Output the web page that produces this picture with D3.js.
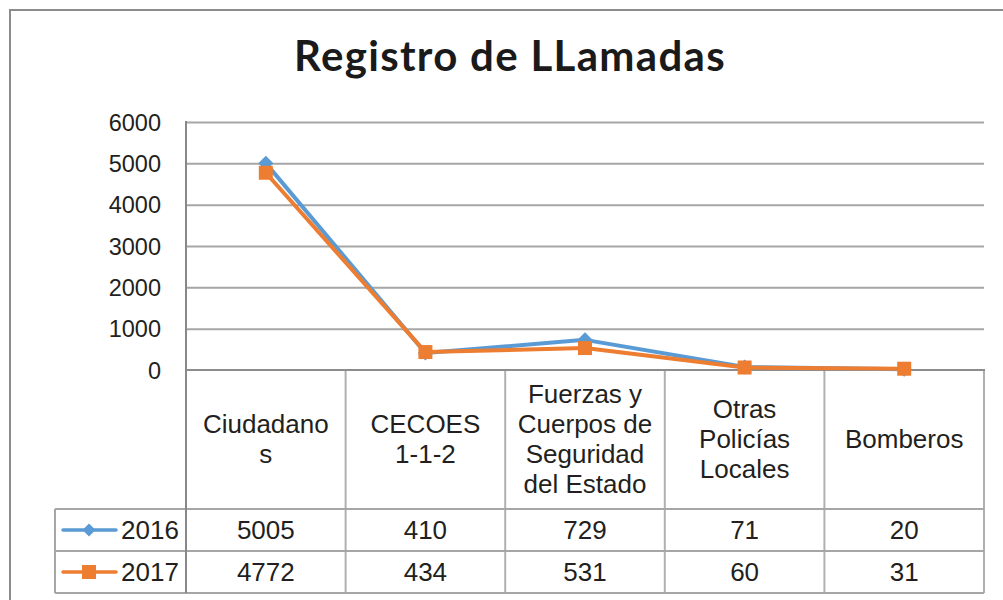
<!DOCTYPE html>
<html>
<head>
<meta charset="utf-8">
<script src="https://cdn.jsdelivr.net/npm/d3@7"></script>
<style>
  html, body { margin: 0; padding: 0; background: #fff; }
  svg { display: block; }
</style>
</head>
<body>
<svg id="chart" width="1003" height="600"></svg>
<script>
// ---- data ----
const categories = ["Ciudadanos", "CECOES 1-1-2", "Fuerzas y Cuerpos de Seguridad del Estado", "Otras Policías Locales", "Bomberos"];
const categoryLines = [["Ciudadano", "s"], ["CECOES", "1-1-2"], ["Fuerzas y", "Cuerpos de", "Seguridad", "del Estado"], ["Otras", "Policías", "Locales"], ["Bomberos"]];
const seriesNames = ["2016", "2017"];
const values2016 = [5005, 410, 729, 71, 20];
const values2017 = [4772, 434, 531, 60, 31];
const yTicks = [0, 1000, 2000, 3000, 4000, 5000, 6000];
const seriesColors = ["#5b9bd5", "#ed7d31"];
const title = "Registro de LLamadas";

const series = [
  { name: seriesNames[0], values: values2016, color: seriesColors[0], shape: "diamond" },
  { name: seriesNames[1], values: values2017, color: seriesColors[1], shape: "square" }
];

// ---- layout ----
const svg = d3.select("#chart");
const plotLeft = 186, plotRight = 984, plotTop = 122, plotBottom = 370;
const headerBottom = 509, rowH = 42;
const tableLeft = 55;
const textColor = "#231f20";
const font = "'Liberation Sans', Arial, sans-serif";

const x = d3.scaleBand().domain(categories).range([plotLeft, plotRight]).padding(0);
const y = d3.scaleLinear().domain([0, 6000]).range([plotBottom, plotTop]);

// outer border
svg.append("rect").attr("x", 10).attr("y", 10).attr("width", 1010).attr("height", 610)
  .attr("fill", "none").attr("stroke", "#8c8c8c").attr("stroke-width", 2);

// title
svg.append("text").attr("x", 510).attr("y", 71).attr("text-anchor", "middle")
  .attr("font-family", "Lato, 'Open Sans', sans-serif").attr("font-weight", "bold")
  .attr("font-size", 42).attr("letter-spacing", 1.3).attr("fill", "#1a1a1a").text(title);

// gridlines
const grid = svg.append("g").attr("transform", `translate(${plotLeft},0)`)
  .call(d3.axisLeft(y).tickValues(yTicks.filter(d => d > 0)).tickSize(-(plotRight - plotLeft)).tickFormat(""));
grid.select(".domain").remove();
grid.selectAll(".tick line").attr("stroke", "#a6a6a6").attr("stroke-width", 2);

// y axis labels
const yAxis = svg.append("g").attr("transform", `translate(${plotLeft},0)`)
  .call(d3.axisLeft(y).tickValues(yTicks).tickSize(0).tickPadding(25).tickFormat(d3.format("d")));
yAxis.select(".domain").remove();
yAxis.selectAll(".tick text").attr("font-family", font).attr("font-size", 23.5).attr("fill", textColor).attr("dy", "0.35em");

// table lines
const tbl = svg.append("g");
const boundaries = categories.map(c => x(c)).concat([plotRight]);
tbl.selectAll("line.v").data(boundaries.slice(1)).join("line")
  .attr("x1", d => d).attr("x2", d => d).attr("y1", plotBottom).attr("y2", headerBottom + 2 * rowH)
  .attr("stroke", "#b0b0b0").attr("stroke-width", 2);
[headerBottom, headerBottom + rowH, headerBottom + 2 * rowH].forEach(yy => {
  tbl.append("line").attr("x1", tableLeft).attr("x2", plotRight).attr("y1", yy).attr("y2", yy)
    .attr("stroke", "#a6a6a6").attr("stroke-width", 2);
});
tbl.append("line").attr("x1", tableLeft).attr("x2", tableLeft).attr("y1", headerBottom).attr("y2", headerBottom + 2 * rowH)
  .attr("stroke", "#a6a6a6").attr("stroke-width", 2);
tbl.append("line").attr("x1", plotLeft).attr("x2", plotLeft).attr("y1", plotTop - 1).attr("y2", headerBottom + 2 * rowH)
  .attr("stroke", "#888").attr("stroke-width", 2);
tbl.append("line").attr("x1", plotLeft).attr("x2", plotRight + 1).attr("y1", y(0)).attr("y2", y(0))
  .attr("stroke", "#8c8c8c").attr("stroke-width", 2);

// category labels
const catG = svg.append("g");
categories.forEach((c, i) => {
  const lines = categoryLines[i];
  const cx = x(c) + x.bandwidth() / 2;
  const t = catG.append("text").attr("text-anchor", "middle").attr("font-family", font)
    .attr("font-size", 26).attr("fill", textColor);
  lines.forEach((ln, j) => {
    t.append("tspan").attr("x", cx).attr("y", 447.5 + (j - (lines.length - 1) / 2) * 30).text(ln);
  });
});

// diamond (rotated square) path generator
const diamondPath = half => `M0,${-half}L${half},0L0,${half}L${-half},0Z`;

// value rows + legend keys
series.forEach((s, si) => {
  const rowTop = headerBottom + si * rowH;
  svg.append("g").selectAll("text").data(s.values).join("text")
    .attr("x", (d, i) => x(categories[i]) + x.bandwidth() / 2)
    .attr("y", rowTop + 30)
    .attr("text-anchor", "middle").attr("font-family", font).attr("font-size", 26).attr("fill", textColor)
    .text(d => d);
  const ky = rowTop + rowH / 2;
  svg.append("line").attr("x1", 63).attr("x2", 116).attr("y1", ky).attr("y2", ky)
    .attr("stroke", s.color).attr("stroke-width", 3.5).attr("stroke-linecap", "round");
  if (s.shape === "diamond") {
    svg.append("path").attr("d", diamondPath(6.5)).attr("transform", `translate(89,${ky})`).attr("fill", s.color);
  } else {
    svg.append("rect").attr("x", 89 - 7).attr("y", ky - 7).attr("width", 14).attr("height", 14).attr("fill", s.color);
  }
  svg.append("text").attr("x", 121).attr("y", rowTop + 30).attr("font-family", font).attr("font-size", 26).attr("fill", textColor).text(s.name);
});

// lines & markers
const line = d3.line().x((d, i) => x(categories[i]) + x.bandwidth() / 2).y(d => y(d));
series.forEach(s => {
  const g = svg.append("g");
  g.append("path").datum(s.values).attr("d", line).attr("fill", "none")
    .attr("stroke", s.color).attr("stroke-width", 4).attr("stroke-linejoin", "round");
  if (s.shape === "diamond") {
    g.selectAll("path.m").data(s.values).join("path").attr("class", "m")
      .attr("d", diamondPath(7.5))
      .attr("transform", (d, i) => `translate(${x(categories[i]) + x.bandwidth() / 2},${y(d)})`)
      .attr("fill", s.color);
  } else {
    g.selectAll("rect").data(s.values).join("rect")
      .attr("x", (d, i) => x(categories[i]) + x.bandwidth() / 2 - 7)
      .attr("y", d => y(d) - 7).attr("width", 14).attr("height", 14).attr("fill", s.color);
  }
});
</script>
</body>
</html>
